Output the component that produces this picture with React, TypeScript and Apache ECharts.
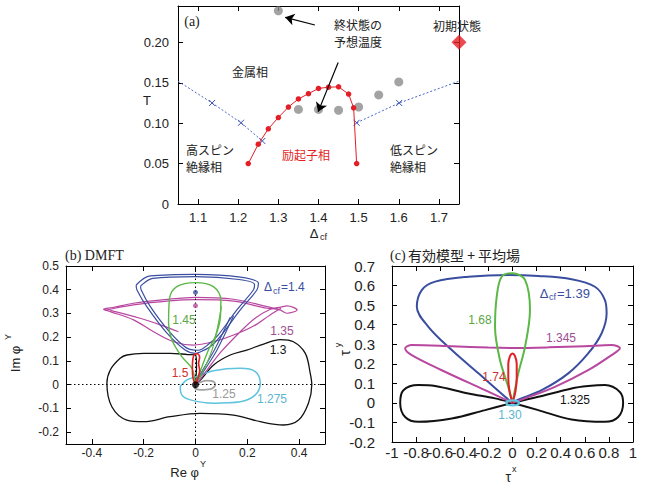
import React, { useEffect, useRef } from "react";
import * as echarts from "echarts";

// ---------- Panel (a): phase diagram ----------
const aXTicks = [1.1, 1.2, 1.3, 1.4, 1.5, 1.6, 1.7];
const aYTicks = [0, 0.05, 0.1, 0.15, 0.2];
const excitonDcf = [1.225, 1.25, 1.275, 1.3, 1.325, 1.35, 1.375, 1.4, 1.425, 1.45, 1.475, 1.4875, 1.495];
const excitonT = [0.05, 0.074, 0.093, 0.107, 0.12, 0.13, 0.1365, 0.143, 0.1445, 0.145, 0.136, 0.119, 0.05];
const hsDcf = [1.05, 1.135, 1.207, 1.26];
const hsT = [0.152, 0.125, 0.1005, 0.078];
const lsDcf = [1.495, 1.601, 1.75];
const lsT = [0.1005, 0.125, 0.152];
const finalDcf = [1.3, 1.35, 1.4, 1.45, 1.5, 1.55, 1.6];
const finalT = [0.239, 0.117, 0.117, 0.116, 0.12, 0.135, 0.151];
const initDcf = [1.75];
const initT = [0.2];
const arrowFrom = [[1.391, 0.2215], [1.449, 0.175]];
const arrowTo = [[1.317, 0.231], [1.399, 0.114]];

// ---------- Panel (b): DMFT trajectories ----------
const bTicksX = [-0.4, -0.2, 0, 0.2, 0.4];
const bTicksY = [-0.2, -0.1, 0, 0.1, 0.2, 0.3, 0.4, 0.5];
const b130 = [[0, 0], [0.02, 0.02], [0.07, 0.083], [0.134, 0.125], [0.198, 0.146], [0.263, 0.171], [0.327, 0.19], [0.378, 0.181], [0.424, 0.132], [0.443, 0.048], [0.449, 0], [0.436, -0.078], [0.398, -0.149], [0.34, -0.17], [0.25, -0.156], [0.147, -0.128], [0.018, -0.121], [-0.098, -0.135], [-0.2, -0.156], [-0.265, -0.149], [-0.323, -0.093], [-0.342, 0.006], [-0.329, 0.062], [-0.291, 0.111], [-0.265, 0.125], [-0.2, 0.132], [-0.098, 0.132], [-0.03, 0.127], [0, 0.125], [0.004, 0.08], [0.002, 0.03], [0, 0]];
const b1275 = [[-0.059, -0.008], [-0.033, 0.02], [0, 0.033], [0.07, 0.059], [0.173, 0.069], [0.231, 0.055], [0.25, 0.006], [0.231, -0.043], [0.173, -0.072], [0.07, -0.078], [-0.02, -0.064], [-0.053, -0.043], [-0.059, -0.008]];
const b125 = [[0, 0], [0.044, 0.017], [0.07, 0.013], [0.076, -0.001], [0.057, -0.019], [0.018, -0.022], [-0.005, -0.012], [0, 0]];
const b150 = [[0, 0], [-0.01, 0.03], [-0.012, 0.07], [-0.01, 0.11], [-0.004, 0.128], [0.008, 0.13], [0.016, 0.115], [0.012, 0.09], [0.016, 0.06], [0.01, 0.03], [0.004, 0.01], [0, 0]];
const b145 = [[0, 0], [-0.014, 0.069], [-0.053, 0.118], [-0.091, 0.188], [-0.104, 0.259], [-0.1, 0.364], [-0.072, 0.413], [0, 0.43], [0.069, 0.413], [0.098, 0.357], [0.095, 0.273], [0.076, 0.202], [0.05, 0.146], [0.025, 0.076], [0, 0]];
const b145strand = [[0.005, 0.01], [0.035, 0.07], [0.065, 0.15], [0.085, 0.24], [0.1, 0.33]];
const b140outer = [[-0.229, 0.42], [-0.175, 0.458], [0, 0.465], [0.173, 0.453], [0.243, 0.427], [0.237, 0.399], [0.173, 0.315], [0.095, 0.202], [0.057, 0.16], [0.012, 0.135], [0, 0.132], [-0.04, 0.146], [-0.11, 0.217], [-0.188, 0.329], [-0.226, 0.399], [-0.229, 0.42]];
const b140inner = [[-0.212, 0.415], [-0.165, 0.448], [0, 0.455], [0.168, 0.443], [0.228, 0.422], [0.224, 0.4], [0.162, 0.318], [0.088, 0.21], [0.05, 0.17], [0.01, 0.145], [-0.035, 0.155], [-0.1, 0.222], [-0.175, 0.33], [-0.21, 0.4], [-0.212, 0.415]];
const b140strandA = [[0.005, 0.01], [0.04, 0.07], [0.083, 0.146], [0.147, 0.29]];
const b140strandB = [[0.003, 0.012], [0.035, 0.075], [0.075, 0.15], [0.134, 0.284]];
const b135 = [[0.01, 0.01], [0.05, 0.07], [0.1, 0.14], [0.17, 0.22], [0.23, 0.28], [0.289, 0.318], [0.33, 0.327], [0.353, 0.332], [0.392, 0.315], [0.353, 0.301], [0.326, 0.315], [0.276, 0.329], [0.147, 0.36], [0, 0.368], [-0.12, 0.358], [-0.239, 0.343], [-0.32, 0.325], [-0.355, 0.318], [-0.329, 0.308], [-0.239, 0.273], [-0.162, 0.223], [-0.085, 0.181], [-0.008, 0.167], [0.069, 0.181], [0.147, 0.209], [0.224, 0.247], [0.288, 0.294], [0.33, 0.322]];
const b135band = [[-0.35, 0.313], [-0.24, 0.336], [-0.1, 0.353], [0, 0.358], [0.147, 0.352], [0.276, 0.322], [0.32, 0.318]];
const b135strand = [[-0.329, 0.313], [-0.214, 0.28], [-0.136, 0.252], [-0.066, 0.223]];
const bDotBlue = [[0, 0.389]];
const bDotMagenta = [[0, 0.333]];
const bOrigin = [[0, 0]];

// ---------- Panel (c): effective model + mean field ----------
const cTicksX = [-1, -0.8, -0.6, -0.4, -0.2, 0, 0.2, 0.4, 0.6, 0.8, 1];
const cTicksY = [-0.2, -0.1, 0, 0.1, 0.2, 0.3, 0.4, 0.5, 0.6, 0.7];
const c1325 = [[0, 0], [0.214, 0.031], [0.49, 0.074], [0.628, 0.086], [0.767, 0.091], [0.891, 0.056], [0.918, 0], [0.877, -0.072], [0.767, -0.097], [0.49, -0.085], [0.214, -0.037], [0, 0], [-0.145, 0.023], [-0.366, 0.048], [-0.642, 0.086], [-0.781, 0.091], [-0.905, 0.065], [-0.932, 0], [-0.891, -0.072], [-0.781, -0.097], [-0.504, -0.08], [-0.228, -0.037], [0, 0]];
const c139 = [[0, 0], [-0.062, 0.031], [-0.283, 0.151], [-0.504, 0.27], [-0.698, 0.389], [-0.794, 0.492], [-0.753, 0.577], [-0.642, 0.62], [-0.366, 0.645], [-0.035, 0.654], [0.214, 0.649], [0.49, 0.632], [0.684, 0.594], [0.767, 0.526], [0.781, 0.458], [0.739, 0.355], [0.628, 0.253], [0.463, 0.151], [0.242, 0.065], [0.048, 0.017], [0, 0]];
const c1345 = [[0, 0], [-0.228, 0.065], [-0.587, 0.167], [-0.836, 0.244], [-0.891, 0.279], [-0.836, 0.296], [-0.504, 0.29], [-0.2, 0.283], [0, 0.281], [0.3, 0.284], [0.6, 0.29], [0.822, 0.296], [0.891, 0.279], [0.822, 0.244], [0.628, 0.167], [0.352, 0.082], [0.104, 0.023], [0, 0]];
const c168 = [[0, 0], [-0.035, 0.082], [-0.104, 0.219], [-0.145, 0.389], [-0.131, 0.543], [-0.09, 0.645], [0, 0.663], [0.104, 0.629], [0.145, 0.475], [0.104, 0.287], [0.048, 0.151], [0, 0]];
const c174 = [[0, 0], [-0.025, 0.06], [-0.035, 0.13], [-0.035, 0.2], [-0.02, 0.24], [0, 0.253], [0.02, 0.24], [0.035, 0.2], [0.035, 0.13], [0.025, 0.06], [0, 0]];
const c130 = [[-0.055, 0], [-0.04, 0.01], [0, 0.013], [0.04, 0.01], [0.055, 0], [0.04, -0.01], [0, -0.013], [-0.04, -0.01], [-0.055, 0]];

const SANS = '"Liberation Sans", Arial, Helvetica, sans-serif';
const CJK = '"Noto Sans CJK JP", "Noto Sans", sans-serif';
const SERIF = '"Liberation Serif", "Times New Roman", serif';

const BLUE = "#3a4ea0";
const GREEN = "#5bb846";
const MAGENTA = "#b8479f";
const RED = "#e41e26";
const CYAN = "#5ec3dd";
const GRAY = "#a3a3a3";
const BLACK = "#111111";

const zip = (xs: number[], ys: number[]) => xs.map((x, i) => [x, ys[i]]);

function axisPair(gi: number, min: number, max: number, ticks: number[], fs: number, fmt: (v: number) => string, margin: number, isX: boolean) {
  const base = {
    type: "value",
    gridIndex: gi,
    min,
    max,
    splitLine: { show: false },
    axisLine: { show: true, onZero: false, lineStyle: { color: "#000", width: 1 } },
    axisTick: { show: true, inside: true, length: 5, customValues: ticks, lineStyle: { color: "#000", width: 1 } },
  };
  return [
    {
      ...base,
      position: isX ? "bottom" : "left",
      axisLabel: { show: true, customValues: ticks, formatter: fmt, fontSize: fs, color: "#222", fontFamily: SANS, margin },
    },
    {
      ...base,
      position: isX ? "top" : "right",
      axisLabel: { show: false },
    },
  ];
}

function curve(data: number[][], color: string, width: number, xi: number, z = 2) {
  return {
    type: "line",
    xAxisIndex: xi,
    yAxisIndex: xi,
    data,
    symbol: "none",
    showSymbol: false,
    smooth: 0.35,
    silent: true,
    z,
    lineStyle: { color, width },
  };
}

function txt(text: string, x: number, y: number, o: any = {}) {
  return {
    type: "text",
    x,
    y,
    rotation: o.rotation || 0,
    silent: true,
    z: 100,
    style: {
      text,
      fill: o.fill || "#222",
      fontSize: o.fontSize || 12,
      fontFamily: o.fontFamily || SANS,
      fontWeight: o.fontWeight || "normal",
      align: o.align || "center",
      verticalAlign: "middle",
    },
  };
}

const fmt1 = (v: number) => String(Number(v.toFixed(1)));

export default function App() {
  const ref = useRef<HTMLDivElement>(null);
  useEffect(() => {
    if (!ref.current) return;
    const chart = echarts.init(ref.current, undefined, { renderer: "svg" });
    const [ax0, ax1] = axisPair(0, 1.05, 1.75, aXTicks, 13, (v) => v.toFixed(1), 7, true);
    const [ay0, ay1] = axisPair(0, 0, 0.245, aYTicks, 13, (v) => (v === 0 ? "0" : v.toFixed(2)), 9, false);
    const [bx0, bx1] = axisPair(1, -0.5, 0.5, bTicksX, 12, fmt1, 3, true);
    const [by0, by1] = axisPair(1, -0.25, 0.5, bTicksY, 12, fmt1, 7, false);
    const [cx0, cx1] = axisPair(2, -1, 1, cTicksX, 15, fmt1, 3, true);
    const [cy0, cy1] = axisPair(2, -0.2, 0.7, cTicksY, 15, fmt1, 17, false);

    const xMinA = 1.05, xMaxA = 1.75;
    const boundary = (xs: number[], ys: number[]) =>
      zip(xs, ys).map((p) => ({ value: p, symbol: p[0] <= xMinA || p[0] >= xMaxA ? "none" : "path://M0,0L10,10M10,0L0,10" }));

    const option: any = {
      animation: false,
      backgroundColor: "#fff",
      grid: [
        { left: 178, top: 6, width: 281, height: 198 },
        { left: 66, top: 266, width: 259, height: 178 },
        { left: 392, top: 266, width: 241, height: 176 },
      ],
      xAxis: [ax0, ax1, bx0, bx1, cx0, cx1],
      yAxis: [ay0, ay1, by0, by1, cy0, cy1],
      series: [
        // (a)
        {
          type: "line", xAxisIndex: 0, yAxisIndex: 0, data: boundary(hsDcf, hsT), symbolSize: 6,
          lineStyle: { color: "#4a64c8", width: 1, type: [2, 2] },
          itemStyle: { color: "transparent", borderColor: "#3a50b0", borderWidth: 1 }, z: 2, silent: true,
        },
        {
          type: "line", xAxisIndex: 0, yAxisIndex: 0, data: boundary(lsDcf, lsT), symbolSize: 6,
          lineStyle: { color: "#4a64c8", width: 1, type: [2, 2] },
          itemStyle: { color: "transparent", borderColor: "#3a50b0", borderWidth: 1 }, z: 2, silent: true,
        },
        {
          type: "scatter", xAxisIndex: 0, yAxisIndex: 0, data: zip(finalDcf, finalT), symbolSize: 9, clip: false,
          itemStyle: { color: "#8c8c8c" }, z: 3, silent: true,
          markLine: {
            silent: true, symbol: ["none", "arrow"], symbolSize: 9, z: 10,
            itemStyle: { color: "#000" },
            lineStyle: { color: "#000", width: 1.2, type: "solid" }, label: { show: false },
            data: arrowFrom.map((f, i) => [{ coord: f }, { coord: arrowTo[i] }]),
          },
        },
        {
          type: "line", xAxisIndex: 0, yAxisIndex: 0, data: zip(excitonDcf, excitonT), symbol: "circle", symbolSize: 5.5,
          lineStyle: { color: RED, width: 1 }, itemStyle: { color: RED }, z: 4, silent: true,
        },
        {
          type: "scatter", xAxisIndex: 0, yAxisIndex: 0, data: zip(initDcf, initT), symbol: "diamond", symbolSize: 15, clip: false,
          itemStyle: { color: RED }, z: 5, silent: true,
        },
        // (b)
        {
          ...curve(b130, BLACK, 1.3, 2, 2),
          markLine: {
            silent: true, symbol: ["none", "none"], label: { show: false },
            lineStyle: { color: "#000", width: 1, type: [1.5, 2.5] },
            data: [{ xAxis: 0 }, { yAxis: 0 }],
          },
        },
        curve(b1275, CYAN, 1.5, 2, 3),
        curve(b125, GRAY, 1.8, 2, 3),
        curve(b135, MAGENTA, 1.2, 2, 3),
        curve(b135band, MAGENTA, 1.2, 2, 3),
        curve(b135strand, MAGENTA, 1.2, 2, 3),
        curve(b140outer, BLUE, 1.2, 2, 4),
        curve(b140inner, BLUE, 1.2, 2, 4),
        curve(b140strandA, BLUE, 1.1, 2, 4),
        curve(b140strandB, BLUE, 1.1, 2, 4),
        curve(b145, GREEN, 1.4, 2, 5),
        curve(b145strand, GREEN, 1.2, 2, 5),
        curve(b150, RED, 1.6, 2, 6),
        { type: "scatter", xAxisIndex: 2, yAxisIndex: 2, data: bDotBlue, symbolSize: 5, itemStyle: { color: BLUE }, z: 7, silent: true },
        { type: "scatter", xAxisIndex: 2, yAxisIndex: 2, data: bDotMagenta, symbolSize: 5, itemStyle: { color: MAGENTA }, z: 7, silent: true },
        { type: "scatter", xAxisIndex: 2, yAxisIndex: 2, data: bOrigin, symbolSize: 7, itemStyle: { color: "#000" }, z: 8, silent: true },
        // (c)
        curve(c1325, BLACK, 2, 4, 2),
        curve(c139, BLUE, 2, 4, 3),
        curve(c1345, MAGENTA, 2, 4, 4),
        curve(c168, GREEN, 2, 4, 5),
        curve(c174, RED, 2, 4, 6),
        curve(c130, CYAN, 2.2, 4, 7),
      ],
      graphic: [
        // (a)
        txt("(a)", 192, 21, { fontFamily: SERIF, fontSize: 14 }),
        txt("終状態の", 358, 24, { fontFamily: CJK }),
        txt("予想温度", 358, 41, { fontFamily: CJK }),
        txt("初期状態", 457, 25, { fontFamily: CJK }),
        txt("金属相", 250, 71, { fontFamily: CJK }),
        txt("高スピン", 186, 149, { fontFamily: CJK, align: "left" }),
        txt("絶縁相", 186, 166, { fontFamily: CJK, align: "left" }),
        txt("励起子相", 306, 154, { fontFamily: CJK, fill: RED }),
        txt("低スピン", 390, 149, { fontFamily: CJK, align: "left" }),
        txt("絶縁相", 390, 166, { fontFamily: CJK, align: "left" }),
        txt("T", 147, 100, { fontSize: 13 }),
        txt("Δ", 314, 233, { fontSize: 13 }),
        txt("cf", 320, 237, { fontSize: 9, align: "left" }),
        // (b)
        txt("(b) DMFT", 65, 255, { fontFamily: SERIF, fontSize: 14, align: "left" }),
        txt("Δ", 268, 287, { fontSize: 12, fill: BLUE }),
        txt("cf", 273, 291, { fontSize: 9, fill: BLUE, align: "left" }),
        txt("=1.4", 281, 287, { fontSize: 12, fill: BLUE, align: "left" }),
        txt("1.45", 184, 320, { fill: "#5aa545" }),
        txt("1.35", 282, 331, { fill: "#a04e92" }),
        txt("1.3", 278, 350, { fill: "#111" }),
        txt("1.5", 180, 373, { fill: "#cc3333" }),
        txt("1.25", 224, 394, { fill: "#999" }),
        txt("1.275", 272, 399, { fill: "#5ab5cf" }),
        txt("Re φ", 199, 472, { fontSize: 13, align: "right" }),
        txt("Y", 200, 464, { fontSize: 9, align: "left" }),
        txt("Im φ", 15, 359, { fontSize: 13, rotation: Math.PI / 2 }),
        txt("Y", 8, 337, { fontSize: 9, rotation: Math.PI / 2 }),
        // (c)
        txt("(c) ", 390, 255, { fontFamily: SERIF, fontSize: 14, align: "left" }),
        txt("有効模型 + 平均場", 408, 255, { fontFamily: CJK, fontSize: 14, align: "left" }),
        txt("Δ", 544, 293, { fontSize: 13, fill: BLUE }),
        txt("cf", 549, 297, { fontSize: 9, fill: BLUE, align: "left" }),
        txt("=1.39", 557, 293, { fontSize: 13, fill: BLUE, align: "left" }),
        txt("1.68", 480, 320, { fill: "#5aa545" }),
        txt("1.345", 561, 338, { fill: "#a04e92" }),
        txt("1.74", 494, 377, { fill: "#cc3333" }),
        txt("1.325", 575, 400, { fill: "#111" }),
        txt("1.30", 510, 415, { fill: "#5ab5cf" }),
        txt("τ", 511, 477, { fontSize: 14, align: "right" }),
        txt("x", 512, 469, { fontSize: 9, align: "left" }),
        txt("τ", 345, 353, { fontSize: 14, rotation: Math.PI / 2 }),
        txt("y", 338, 345, { fontSize: 9, rotation: Math.PI / 2 }),
      ],
    };
    chart.setOption(option);
    return () => chart.dispose();
  }, []);
  return (
    <div
      ref={ref}
      style={{ position: "fixed", left: 0, top: 0, width: 651, height: 486, background: "#fff" }}
    />
  );
}
